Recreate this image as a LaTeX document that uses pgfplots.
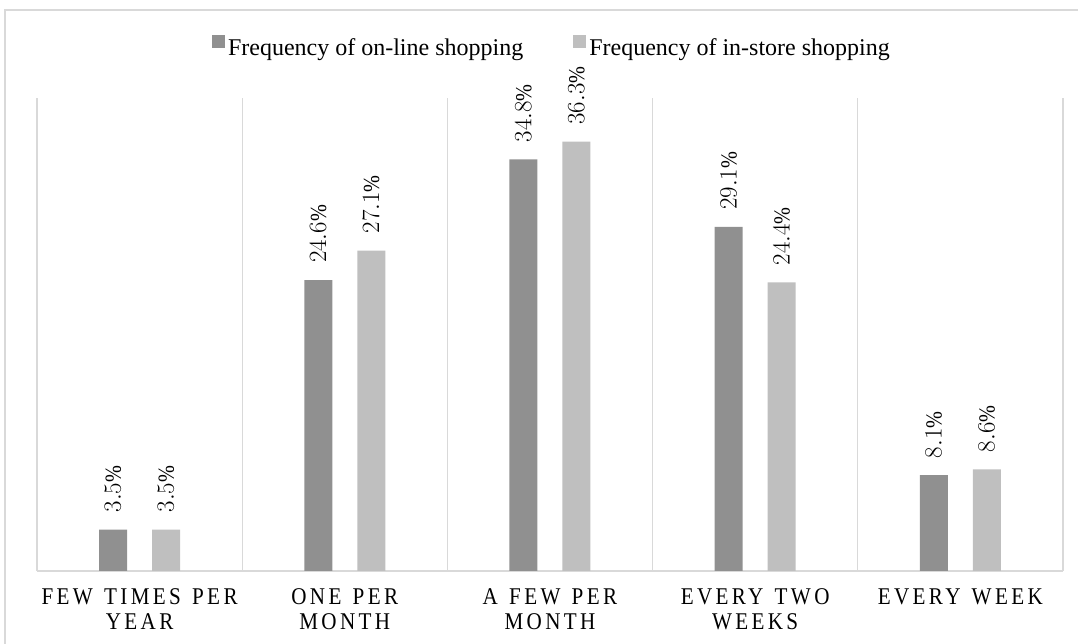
\documentclass[border=0pt]{standalone}
\usepackage{fontspec}
\setmainfont{Liberation Serif}
\newfontfamily\spaced[LetterSpace=14, FakeStretch=0.88, WordSpace=1.3]{Liberation Serif}
\newfontfamily\narrow[FakeStretch=0.88]{Liberation Serif}
\usepackage{pgfplots}
\pgfplotsset{compat=1.18}
\definecolor{darkbar}{HTML}{909090}
\definecolor{lightbar}{HTML}{BFBFBF}
\definecolor{gridc}{HTML}{D9D9D9}
\begin{document}
\begin{tikzpicture}
\useasboundingbox (0pt,0pt) rectangle (1078pt,644pt);
\draw[gridc, line width=1.5pt] (5pt,-20pt) rectangle (1100pt,634pt);
\begin{axis}[
  at={(37pt,73pt)}, anchor=south west,
  scale only axis, width=1026pt, height=473pt,
  xmin=-0.5, xmax=4.5, ymin=0, ymax=40,
  ybar=25pt, bar width=28pt,
  hide y axis,
  axis x line*=bottom,
  x axis line style={draw=gridc, line width=1.8pt, -},
  xtick={0,1,2,3,4},
  xticklabels={FEW TIMES PER\\YEAR, ONE PER\\MONTH, A FEW PER\\MONTH, EVERY TWO\\WEEKS, EVERY WEEK},
  xticklabel style={font=\fontsize{24}{25}\spaced, align=center, yshift=-14pt},
  major tick length=0pt, minor tick length=0pt,
  minor xtick={-0.5,0.5,1.5,2.5,3.5,4.5},
  xminorgrids=true,
  minor grid style={draw=gridc, line width=1.2pt},
  nodes near coords={\pgfmathprintnumber[fixed,fixed zerofill,precision=1]{\pgfplotspointmeta}\%},
  every node near coord/.append style={font=\fontsize{23}{26}\narrow, rotate=90, anchor=west, inner ysep=0pt, inner xsep=17pt, text=black},
  legend style={at={(axis description cs:0.5,1)}, anchor=center, yshift=51pt, xshift=2pt, draw=none, fill=none,
    font=\fontsize{24}{28}\selectfont, legend columns=2,
    /tikz/every even column/.append style={column sep=48pt},
    /tikz/every odd column/.append style={column sep=1pt}},
  legend image code/.code={\fill[#1] (0pt,-1pt) rectangle (13pt,12pt);},
  clip=false,
]
\addplot[fill=darkbar, draw=none] coordinates {(0,3.5) (1,24.6) (2,34.8) (3,29.1) (4,8.1)};
\addplot[fill=lightbar, draw=none] coordinates {(0,3.5) (1,27.1) (2,36.3) (3,24.4) (4,8.6)};
\legend{Frequency of on-line shopping, Frequency of in-store shopping}
\end{axis}
\end{tikzpicture}
\end{document}
